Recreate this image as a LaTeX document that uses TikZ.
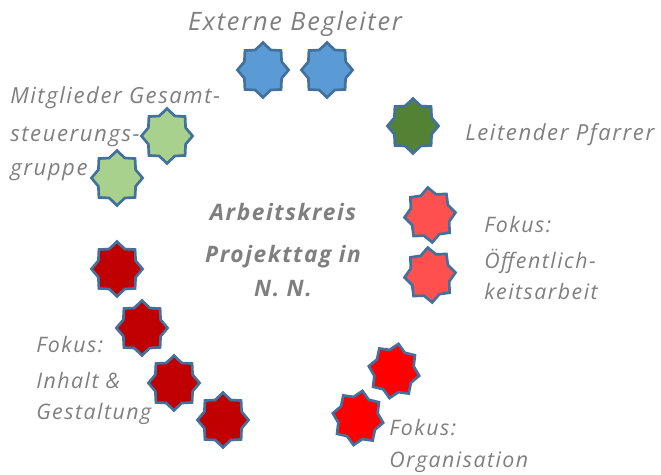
\documentclass[tikz,border=0pt]{standalone}
\usepackage{fontspec}
\usetikzlibrary{shapes.geometric}
\setmainfont{Open Sans}[LetterSpace=7,ItalicFont=* Italic,BoldItalicFont=* Bold Italic]
\definecolor{txtgray}{HTML}{7F7F7F}
\definecolor{edgeblue}{HTML}{41719C}
\definecolor{cblue}{HTML}{5B9BD5}
\definecolor{cgreen}{HTML}{548235}
\definecolor{clight}{HTML}{A9D18E}
\definecolor{csalmon}{HTML}{FF5050}
\definecolor{cdark}{HTML}{C00000}
\definecolor{cred}{HTML}{FF0000}
\tikzset{
 starbase/.style={star,star points=8,star point ratio=1.27,minimum size=55*0.75pt,inner sep=0pt,draw=edgeblue,line width=2pt,line join=miter,xscale=0.93},
 bluestar/.style={starbase,fill=cblue},
 greenstar/.style={starbase,fill=cgreen},
 lightstar/.style={starbase,fill=clight},
 salmonstar/.style={starbase,fill=csalmon},
 darkstar/.style={starbase,fill=cdark},
 redstar/.style={starbase,fill=cred},
 lab/.style={text=txtgray,font=\itshape\fontsize{16}{24}\selectfont,inner sep=0pt,align=left,anchor=base west},
 midlab/.style={lab,font=\itshape\fontsize{16.6}{24}\selectfont},
 biglab/.style={lab,font=\itshape\fontsize{19}{24}\selectfont},
 title/.style={text=txtgray,font=\bfseries\itshape\fontsize{17}{26}\selectfont,inner sep=0pt,align=center,anchor=base}
}
\begin{document}
\begin{tikzpicture}[x=0.75pt,y=-0.75pt]
\useasboundingbox (0,0) rectangle (661,475);
\node[bluestar] (b1) at (263,70) {};
\node[bluestar] (b2) at (327,70) {};
\node[greenstar] (g1) at (413,126) {};
\node[lightstar] (l1) at (167,136) {};
\node[lightstar] (l2) at (117,178) {};
\node[salmonstar,rotate=5] (s1) at (430,215) {};
\node[salmonstar,rotate=5] (s2) at (430,275) {};
\node[darkstar] (d1) at (117,269) {};
\node[darkstar] (d2) at (142,328) {};
\node[darkstar] (d3) at (174,383) {};
\node[darkstar] (d4) at (223,420) {};
\node[redstar,rotate=-10] (r1) at (394,371) {};
\node[redstar,rotate=-10] (r2) at (358,418) {};
\node[biglab,anchor=base] (t1) at (295,30) {Externe Begleiter};
\node[midlab] (t2) at (465,140) {Leitender Pfarrer};
\node[midlab] (t3) at (10,175) {Mitglieder Gesamt-\\[5pt]steuerungs-\\[1pt]gruppe};
\node[title] (t4) at (283,296) {Arbeitskreis\\[6pt]Projekttag in\\[-1pt]N. N.};
\node[lab] (t5) at (484,299) {Fokus:\\[3pt]Öffentlich-\\[-1pt]keitsarbeit};
\node[lab] (t6) at (36,419) {Fokus:\\[3pt]Inhalt \&\\[-1pt]Gestaltung};
\node[lab] (t7) at (389,467) {Fokus:\\Organisation};
\end{tikzpicture}
\end{document}
